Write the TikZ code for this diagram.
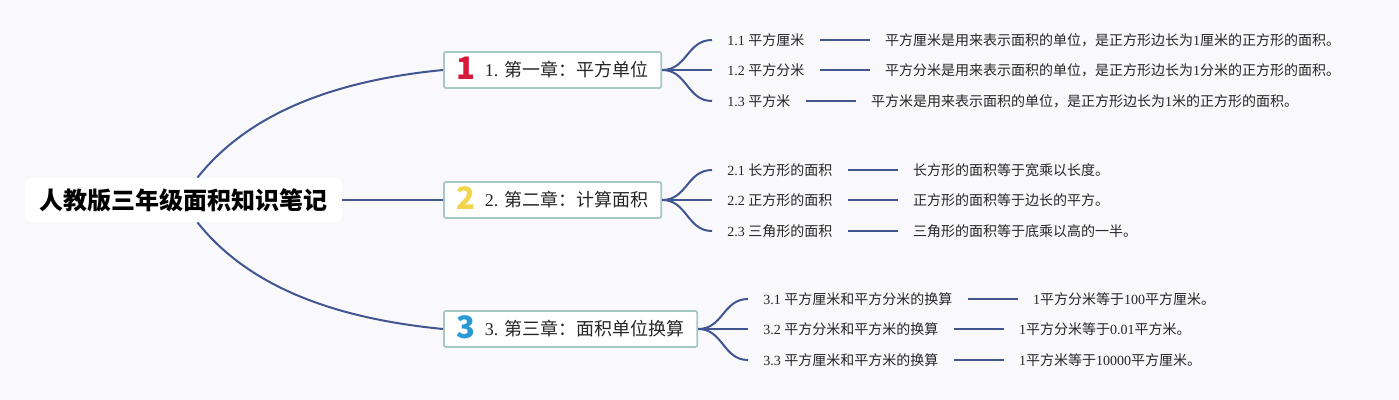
\documentclass[tikz,border=0pt]{standalone}
\usepackage{fontspec}
\setmainfont{Liberation Serif}
\newfontfamily\cjk{Noto Sans CJK SC}
\usetikzlibrary{positioning}
\definecolor{mybg}{RGB}{249,249,251}
\definecolor{myline}{RGB}{65,86,145}
\definecolor{myborder}{RGB}{166,201,191}
\definecolor{mytext}{RGB}{38,38,38}
\definecolor{myred}{RGB}{215,25,58}
\definecolor{myyellow}{RGB}{242,213,74}
\definecolor{myblue}{RGB}{42,154,214}
\newcommand{\badge}[2]{\smash{\raisebox{-1.2pt}{\cjk\bfseries\fontsize{15.5}{16}\selectfont\color{#1}#2}}\hspace{4.5pt}}

\tikzset{
  chapter/.style={draw=myborder, line width=0.9pt, fill=white, rounded corners=1pt, minimum height=18pt, inner xsep=6.5pt, inner ysep=1pt, anchor=west, text=mytext, font=\fontsize{9}{10}\selectfont},
  sub/.style={inner sep=0pt, anchor=west, text=mytext, font=\fontsize{7}{8}\selectfont},
  desc/.style={inner sep=0pt, text=mytext, font=\fontsize{7}{8}\selectfont},
  branch/.style={myline, line width=1pt},
  twig/.style={myline, line width=1pt, shorten >=7.5pt, shorten <=7.5pt}
}

\begin{document}
\begin{tikzpicture}[x=0.5pt, y=-0.5pt]
  % background
  \fill[mybg] (0,0) rectangle (1399,400);

  % Root
  \node[fill=white, rounded corners=3pt, minimum width=158.5pt, minimum height=22pt, text=black, font=\cjk\bfseries\fontsize{12}{14}\selectfont] (root) at (183.5,200) {人教版三年级面积知识笔记};

  % Chapters
  \node[chapter] (ch1) at (443,70) {\badge{myred}{1}1. {\cjk 第一章：平方单位}};
  \node[chapter] (ch2) at (443,200) {\badge{myyellow}{2}2. {\cjk 第二章：计算面积}};
  \node[chapter] (ch3) at (443,329) {\badge{myblue}{3}3. {\cjk 第三章：面积单位换算}};

  % Root-to-chapter branches
  \draw[branch] ([xshift=7pt]root.north) .. controls +(53,-67) and +(-103,10) .. (ch1.west);
  \draw[branch] (root.east) -- (ch2.west);
  \draw[branch] ([xshift=7pt]root.south) .. controls +(53,67) and +(-103,-10) .. (ch3.west);

  % Chapter 1
  \node[sub] (s11) at (727,40) {1.1 {\cjk 平方厘米}};
  \node[sub] (s12) at (727,70) {1.2 {\cjk 平方分米}};
  \node[sub] (s13) at (727,101) {1.3 {\cjk 平方米}};
  \node[desc, right=40pt of s11] (d11) {{\cjk 平方厘米是用来表示面积的单位，是正方形边长为}1{\cjk 厘米的正方形的面积。}};
  \node[desc, right=40pt of s12] (d12) {{\cjk 平方分米是用来表示面积的单位，是正方形边长为}1{\cjk 分米的正方形的面积。}};
  \node[desc, right=40pt of s13] (d13) {{\cjk 平方米是用来表示面积的单位，是正方形边长为}1{\cjk 米的正方形的面积。}};
  \draw[branch] (ch1.east) .. controls +(25,0) and +(-25,0) .. ([xshift=-7.5pt]s11.west);
  \draw[branch] (ch1.east) -- ([xshift=-7.5pt]s12.west);
  \draw[branch] (ch1.east) .. controls +(25,0) and +(-25,0) .. ([xshift=-7.5pt]s13.west);
  \draw[twig] (s11.east) -- (d11.west);
  \draw[twig] (s12.east) -- (d12.west);
  \draw[twig] (s13.east) -- (d13.west);

  % Chapter 2
  \node[sub] (s21) at (727,170) {2.1 {\cjk 长方形的面积}};
  \node[sub] (s22) at (727,200) {2.2 {\cjk 正方形的面积}};
  \node[sub] (s23) at (727,231) {2.3 {\cjk 三角形的面积}};
  \node[desc, right=40pt of s21] (d21) {\cjk 长方形的面积等于宽乘以长度。};
  \node[desc, right=40pt of s22] (d22) {\cjk 正方形的面积等于边长的平方。};
  \node[desc, right=40pt of s23] (d23) {\cjk 三角形的面积等于底乘以高的一半。};
  \draw[branch] (ch2.east) .. controls +(25,0) and +(-25,0) .. ([xshift=-7.5pt]s21.west);
  \draw[branch] (ch2.east) -- ([xshift=-7.5pt]s22.west);
  \draw[branch] (ch2.east) .. controls +(25,0) and +(-25,0) .. ([xshift=-7.5pt]s23.west);
  \draw[twig] (s21.east) -- (d21.west);
  \draw[twig] (s22.east) -- (d22.west);
  \draw[twig] (s23.east) -- (d23.west);

  % Chapter 3
  \node[sub] (s31) at (763,299) {3.1 {\cjk 平方厘米和平方分米的换算}};
  \node[sub] (s32) at (763,329) {3.2 {\cjk 平方分米和平方米的换算}};
  \node[sub] (s33) at (763,360) {3.3 {\cjk 平方厘米和平方米的换算}};
  \node[desc, right=40pt of s31] (d31) {1{\cjk 平方分米等于}100{\cjk 平方厘米。}};
  \node[desc, right=40pt of s32] (d32) {1{\cjk 平方分米等于}0.01{\cjk 平方米。}};
  \node[desc, right=40pt of s33] (d33) {1{\cjk 平方米等于}10000{\cjk 平方厘米。}};
  \draw[branch] (ch3.east) .. controls +(25,0) and +(-25,0) .. ([xshift=-7.5pt]s31.west);
  \draw[branch] (ch3.east) -- ([xshift=-7.5pt]s32.west);
  \draw[branch] (ch3.east) .. controls +(25,0) and +(-25,0) .. ([xshift=-7.5pt]s33.west);
  \draw[twig] (s31.east) -- (d31.west);
  \draw[twig] (s32.east) -- (d32.west);
  \draw[twig] (s33.east) -- (d33.west);
\end{tikzpicture}
\end{document}
